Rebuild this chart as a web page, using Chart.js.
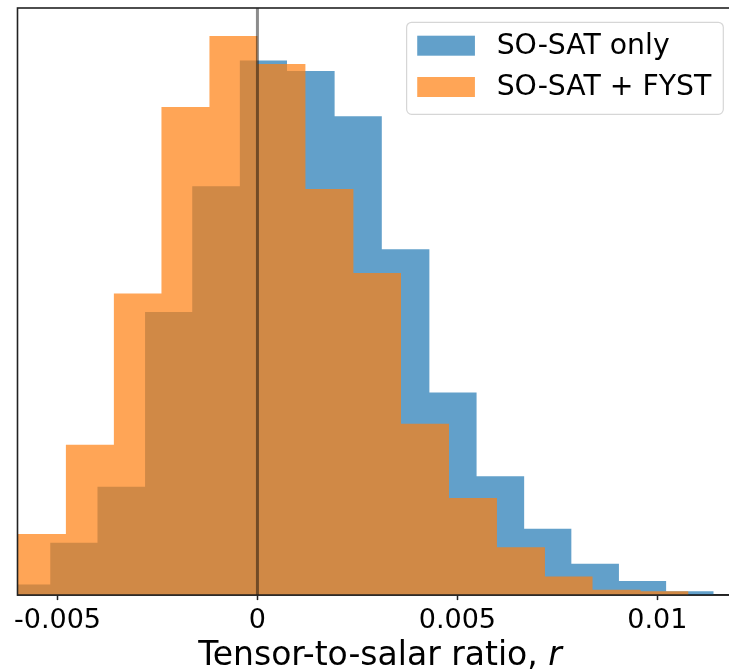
<!DOCTYPE html>
<html>
<head>
<meta charset="utf-8">
<script src="https://cdn.jsdelivr.net/npm/chart.js@4.4.1/dist/chart.umd.min.js"></script>
<style>
    html, body { margin: 0; padding: 0; background: #fff; overflow: hidden; }
    #wrap { width: 729px; height: 672px; overflow: hidden; }
    #box { width: 760px; height: 672px; }
</style>
</head>
<body>
<div id="wrap"><div id="box"><canvas id="myChart"></canvas></div></div>
<script>
// histogram bins (left edges + final right edge)
const seriesNames = ['SO-SAT only', 'SO-SAT + FYST'];
const blueEdges = [-0.00637, -0.00518, -0.00400, -0.00281, -0.00163, -0.00044, 0.00074, 0.00193,
    0.00311, 0.00430, 0.00548, 0.00667, 0.00785, 0.00904, 0.01022, 0.01141];
const blueCounts = [3, 15, 31, 81, 117, 153, 150, 137, 99, 58, 34, 19, 9, 4, 1.1];
const orangeEdges = [-0.00599, -0.00479, -0.00359, -0.00240, -0.00120, 0.0, 0.00120, 0.00240,
    0.00359, 0.00479, 0.00599, 0.00719, 0.00838, 0.00958, 0.01078];
const orangeCounts = [17.5, 43, 86.3, 139.7, 160, 152, 116.2, 92.2, 49, 27.8, 13.7, 5.3, 1.5, 1.1];
const tickValues = [-0.005, 0, 0.005, 0.01];
const tickLabels = ['-0.005', '0', '0.005', '0.01'];
const xRange = [-0.006, 0.01213];
const xTitle = 'Tensor-to-salar ratio, ';
const xTitleVar = 'r';

const FONT = '"DejaVu Sans", sans-serif';
const blueFill = 'rgba(31, 119, 180, 0.7)';
const orangeFill = 'rgba(255, 127, 14, 0.7)';

const histPoints = (edges, counts) => edges.map((x, i) => ({x: x, y: i < counts.length ? counts[i] : 0}));
const yTop = Math.max(...blueCounts, ...orangeCounts) * 1.05;

const framePlugin = {
    id: 'frame',
    afterDraw(chart) {
        const {ctx, chartArea: a} = chart;
        ctx.save();
        ctx.strokeStyle = '#222';
        ctx.lineWidth = 1.6;
        ctx.strokeRect(a.left, a.top, a.right - a.left, a.bottom - a.top);

        // axis title with italic variable
        ctx.fillStyle = '#000';
        ctx.textBaseline = 'middle';
        ctx.font = `33px ${FONT}`;
        const w1 = ctx.measureText(xTitle).width;
        ctx.font = `italic 33px ${FONT}`;
        const w2 = ctx.measureText(xTitleVar).width;
        const cx = (a.left + a.right) / 2;
        const ty = a.bottom + 61;
        let x0 = cx - (w1 + w2) / 2;
        ctx.font = `33px ${FONT}`;
        ctx.fillText(xTitle, x0, ty);
        ctx.font = `italic 33px ${FONT}`;
        ctx.fillText(xTitleVar, x0 + w1, ty);

        // legend box, upper right
        ctx.font = `28.3px ${FONT}`;
        const items = chart.data.datasets.filter(d => d.inLegend);
        const textW = Math.max(...items.map(d => ctx.measureText(d.label).width));
        const bw = 10.6 + 57.7 + 21.7 + textW + 12;
        const bh = 92;
        const bx = a.right - 19.2 - bw;
        const by = a.top + 14.3;
        ctx.beginPath();
        ctx.roundRect(bx, by, bw, bh, 5);
        ctx.fillStyle = 'rgba(255,255,255,0.8)';
        ctx.fill();
        ctx.strokeStyle = '#d6d6d6';
        ctx.lineWidth = 1.2;
        ctx.stroke();
        items.forEach((d, i) => {
            const cy = by + 23.4 + i * 41.3;
            ctx.fillStyle = d.backgroundColor;
            ctx.fillRect(bx + 10.6, cy - 10, 57.7, 20);
            ctx.fillStyle = '#000';
            ctx.fillText(d.label, bx + 10.6 + 57.7 + 21.7, cy + 1);
        });
        ctx.restore();
    }
};

const ctxL = document.getElementById('myChart').getContext('2d');
const histChart = new Chart(ctxL, {
    type: 'line',
    data: {
        datasets: [{
            label: seriesNames[0],
            inLegend: true,
            data: histPoints(blueEdges, blueCounts),
            stepped: true,
            fill: 'origin',
            backgroundColor: blueFill,
            borderWidth: 0,
            pointRadius: 0,
            order: 2
        }, {
            label: seriesNames[1],
            inLegend: true,
            data: histPoints(orangeEdges, orangeCounts),
            stepped: true,
            fill: 'origin',
            backgroundColor: orangeFill,
            borderWidth: 0,
            pointRadius: 0,
            order: 1
        }, {
            label: 'r = 0',
            data: [{x: 0, y: 0}, {x: 0, y: yTop}],
            borderColor: 'rgba(0, 0, 0, 0.45)',
            borderWidth: 3,
            pointRadius: 0,
            fill: false,
            order: 0
        }]
    },
    options: {
        responsive: true,
        maintainAspectRatio: false,
        animation: false,
        layout: {padding: {top: 8, left: 17.5, right: 17.5, bottom: 29.5}},
        plugins: {legend: {display: false}, tooltip: {enabled: false}},
        scales: {
            x: {
                type: 'linear',
                min: xRange[0],
                max: xRange[1],
                afterBuildTicks: (scale) => {
                    scale.ticks = tickValues.map(v => ({value: v}));
                },
                ticks: {
                    color: '#000',
                    padding: 5,
                    maxRotation: 0,
                    autoSkip: false,
                    font: {family: FONT, size: 27},
                    callback: (v) => tickLabels[tickValues.indexOf(v)]
                },
                grid: {drawOnChartArea: false, tickLength: 5, tickColor: '#222', tickWidth: 1.5},
                border: {display: true, color: '#222', width: 1.6}
            },
            y: {
                display: false,
                min: 0,
                max: yTop
            }
        }
    },
    plugins: [framePlugin]
});
</script>
</body>
</html>
